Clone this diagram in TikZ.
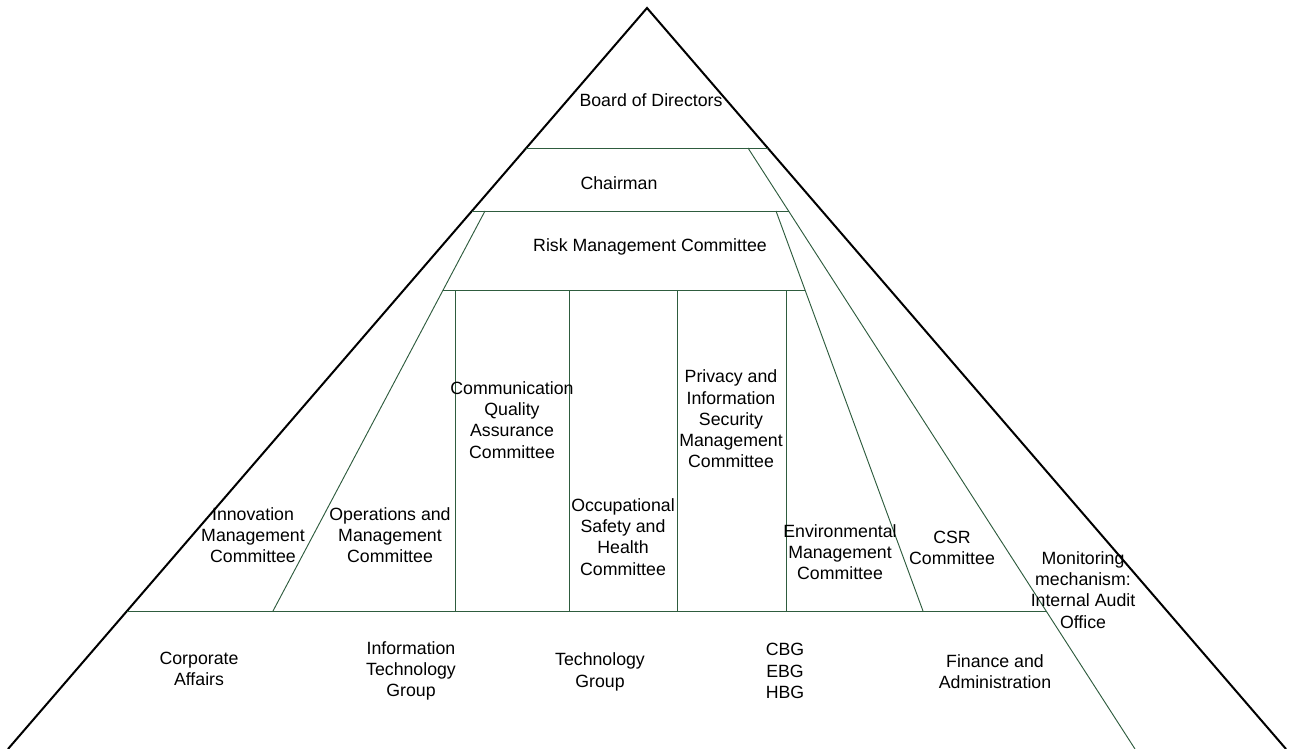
\documentclass[tikz,border=0pt]{standalone}
\usepackage{fontspec}
\setmainfont{Liberation Sans}
\usepackage{tikz}

\definecolor{rimgreen}{RGB}{46,92,62}

\tikzset{
  tier/.style={draw=rimgreen, line width=0.7pt},
  label/.style={align=center, inner sep=0pt, font=\fontsize{13.3}{15.9}\selectfont},
}

\begin{document}
\begin{tikzpicture}[x=0.75pt,y=0.75pt,yscale=-1,xscale=1]
\useasboundingbox (0,0) rectangle (1289,749);

%Corners of the pyramid
\coordinate (apex) at (647,8);
\coordinate (baseL) at (8,749);
\coordinate (baseR) at (1286,749);

%Ends of the tier lines
\coordinate (boardL) at (526.3,148);
\coordinate (boardR) at (767.7,148);
\coordinate (chairL) at (472,211);
\coordinate (chairR) at (788.6,211);
\coordinate (riskL) at (443,290);
\coordinate (riskR) at (805,290);
\coordinate (deptL) at (127,611);
\coordinate (deptR) at (1046,611);

%Ends of the slanted lines
\coordinate (opsTop) at (485,211);
\coordinate (opsBot) at (273,611);
\coordinate (envTop) at (776,211);
\coordinate (envBot) at (923,611);
\coordinate (csrTop) at (748,148);
\coordinate (csrBot) at (1135,749);

%Shape: Triangle
\draw [line width=1.5pt] (baseL) -- (apex) -- (baseR);

%Straight Lines
\draw [tier] (boardL) -- (boardR);
\draw [tier] (chairL) -- (chairR);
\draw [tier] (riskL) -- (riskR);
\draw [tier] (deptL) -- (deptR);

%Straight Lines
\draw [tier] (opsTop) -- (opsBot);
\draw [tier] (envTop) -- (envBot);
\draw [tier] (csrTop) -- (csrBot);

%Straight Lines (committee columns)
\foreach \cx in {455.5,569.5,677.5,786.5}
  \draw [tier] (\cx,290) -- (\cx,611);

%Text nodes
\node [label] (board) at (651,100) {Board of Directors};
\node [label] (chair) at (619,183) {Chairman};
\node [label] (risk) at (650,247) {Risk Management Committee};

\node [label] (innov) at (253,535) {Innovation\\Management\\Committee};
\node [label] (ops) at (390,535) {Operations and\\Management\\Committee};
\node [label] (comm) at (512,420) {Communication\\Quality\\Assurance\\Committee};
\node [label] (safety) at (623,537) {Occupational\\Safety and\\Health\\Committee};
\node [label] (privacy) at (731,419) {Privacy and\\Information\\Security\\Management\\Committee};
\node [label] (env) at (840,552) {Environmental\\Management\\Committee};
\node [label] (csr) at (952,548) {CSR\\Committee};
\node [label] (audit) at (1083,590) {Monitoring\\mechanism:\\Internal Audit\\Office};

\node [label] (corp) at (199,669) {Corporate\\Affairs};
\node [label] (itg) at (411,671) {Information\\Technology\\Group};
\node [label] (tech) at (600,672) {Technology\\Group};
\node [label] (bg) at (785,671) {CBG\\EBG\\HBG};
\node [label] (fin) at (995,672) {Finance and\\Administration};

\end{tikzpicture}
\end{document}
